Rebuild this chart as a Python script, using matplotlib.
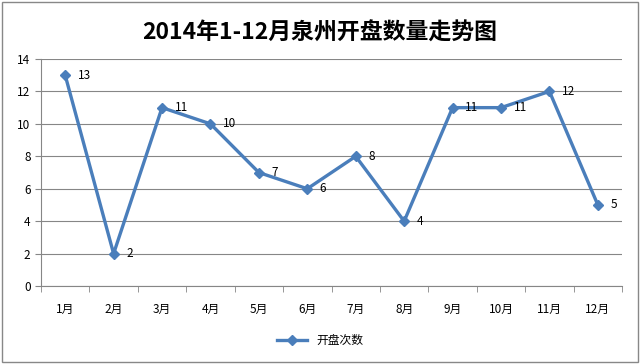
import matplotlib.pyplot as plt
from matplotlib.patches import Rectangle

plt.rcParams['font.family'] = ['Noto Sans CJK SC', 'DejaVu Sans']

# Data
months = ['1月', '2月', '3月', '4月', '5月', '6月', '7月', '8月', '9月', '10月', '11月', '12月']
openings = [13, 2, 11, 10, 7, 6, 8, 4, 11, 11, 12, 5]

color = '#4A7EBB'

fig = plt.figure(figsize=(6.4, 3.64), dpi=100)
ax = fig.add_axes([0.064, 0.214, 0.908, 0.624])

x = list(range(len(months)))
ax.plot(x, openings, color=color, lw=2.4, marker='D', ms=5.5, label='开盘次数')
for xi, v in zip(x, openings):
    ax.annotate(str(v), (xi, v), xytext=(9, 0), textcoords='offset points',
                va='center', ha='left', fontsize=8.5)

ax.set_xlim(-0.5, len(months) - 0.5)
ax.set_ylim(0, 14)
ax.set_yticks(range(0, 15, 2))
ax.set_xticks(x)
ax.set_xticklabels(months, fontsize=8.5)
ax.set_xticks([i - 0.5 for i in range(len(months) + 1)], minor=True)
ax.tick_params(axis='x', which='major', length=0, pad=12)
ax.tick_params(axis='x', which='minor', length=4, color='#868686')
ax.tick_params(axis='y', length=4, color='#868686', labelsize=8.5)
ax.yaxis.grid(True, color='#868686', lw=0.8)
ax.set_axisbelow(True)
for s in ['top', 'right']:
    ax.spines[s].set_visible(False)
for s in ['left', 'bottom']:
    ax.spines[s].set_color('#868686')

fig.suptitle('2014年1-12月泉州开盘数量走势图', y=0.94, fontsize=16.5, fontweight='bold')
fig.legend(loc='center', bbox_to_anchor=(0.5, 0.065), frameon=False, fontsize=8.5,
           handlelength=2.5)

fig.patches.append(Rectangle((0.003, 0.005), 0.994, 0.99, transform=fig.transFigure,
                             fill=False, edgecolor='#888888', lw=1))

plt.savefig('out.png', dpi=100)
